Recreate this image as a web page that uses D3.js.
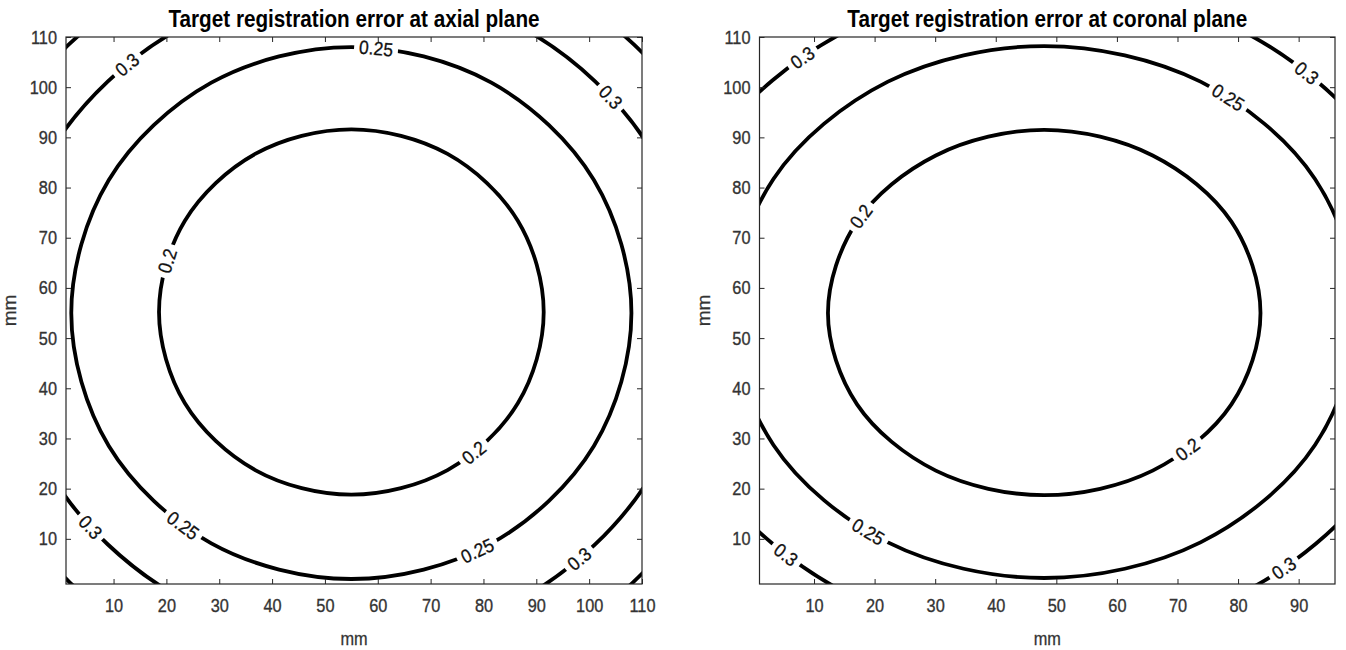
<!DOCTYPE html>
<html><head><meta charset="utf-8">
<script src="https://cdn.jsdelivr.net/npm/d3@7/dist/d3.min.js"></script>
<style>
body{margin:0;background:#fff;}
svg{display:block;}
text{font-family:"Liberation Sans",Arial,Helvetica,sans-serif;}
.sq{transform-box:fill-box;transform-origin:center;transform:scaleX(0.86);}
.sqr{transform-box:fill-box;transform-origin:right center;transform:scaleX(0.86);}
.tt{transform-box:fill-box;transform-origin:center;transform:scaleX(0.9);}
</style></head>
<body><svg id="c" width="1346" height="650"></svg>
<script>
// ---------- data (mm) ----------
const titles = ["Target registration error at axial plane", "Target registration error at coronal plane"];
const xDomainAxial = [1, 110];
const xDomainCoronal = [1, 96];
const yDomain = [1, 110];
const xTicksAxial = [10,20,30,40,50,60,70,80,90,100,110];
const xTicksCoronal = [10,20,30,40,50,60,70,80,90];
const yTicks = [10,20,30,40,50,60,70,80,90,100,110];
const levels = [0.2, 0.25, 0.3, 0.35];

// axial plane contour lines (closed, clipped to the axes box)
const axial020 = [[91.4,55.2],[86.5,73.4],[73.2,86.7],[55,91.6],[36.8,86.7],[23.5,73.4],[18.6,55.2],[23.5,37],[36.8,23.7],[55,18.8],[73.2,23.7],[86.5,37]];
const axial025 = [[108,55],[100.9,81.5],[81.5,100.9],[55,108],[28.5,100.9],[9.1,81.5],[2,55],[9.1,28.5],[28.5,9.1],[55,2],[81.5,9.1],[100.9,28.5]];
const axial030 = [[120.3,55],[111.6,87.7],[87.7,111.6],[55,120.3],[22.4,111.6],[-1.6,87.7],[-10.3,55],[-1.6,22.4],[22.4,-1.6],[55,-10.3],[87.7,-1.6],[111.6,22.4]];
const axial035 = [[130.8,55],[120.6,92.9],[92.9,120.6],[55,130.8],[17.1,120.6],[-10.6,92.9],[-20.8,55],[-10.6,17.1],[17.1,-10.6],[55,-20.8],[92.9,-10.6],[120.6,17.1]];
// coronal plane contour lines
const coronal020 = [[83.7,55],[78.9,73.2],[65.9,86.4],[48,91.5],[30.1,86.4],[17.1,73.2],[12.3,55],[17.1,36.8],[30.1,23.6],[48,18.7],[65.9,23.6],[78.9,36.8]];
const coronal025 = [[99.6,55.2],[92.7,81.7],[73.8,101.1],[48,108.2],[22.2,101.1],[3.3,81.7],[-3.6,55.2],[3.3,28.7],[22.2,9.3],[48,2.2],[73.8,9.3],[92.7,28.7]];
const coronal030 = [[111.6,55.2],[103.1,87.85],[79.8,111.75],[48,120.5],[16.2,111.75],[-7.1,87.85],[-15.6,55.2],[-7.1,22.55],[16.2,-1.35],[48,-10.1],[79.8,-1.35],[103.1,22.55]];

// contour labels: [level, x(mm), y(mm)]
const axialLabels = [[0.3,13.1,103.8],[0.25,59.7,107.6],[0.3,104.3,98.2],[0.2,20.7,65.2],[0.2,78.6,26.7],[0.3,3.6,10.4],[0.25,23.5,13.2],[0.25,79,7.2],[0.3,98.3,5.8]];
const coronalLabels = [[0.3,8.1,105.8],[0.3,91.5,103],[0.25,77.9,97.1],[0.2,17.9,74.1],[0.2,72,27.3],[0.25,19.6,12.8],[0.3,5.4,6.8],[0.3,87.2,4.8]];

// ---------- drawing ----------
const svg = d3.select("#c");
const panels = [
  {title:titles[0], xDomain:xDomainAxial, xTicks:xTicksAxial, left:66, right:642,
   contours:[[0.2,axial020],[0.25,axial025],[0.3,axial030],[0.35,axial035]], labels:axialLabels},
  {title:titles[1], xDomain:xDomainCoronal, xTicks:xTicksCoronal, left:759.5, right:1335,
   contours:[[0.2,coronal020],[0.25,coronal025],[0.3,coronal030]], labels:coronalLabels}
];
const plotTop = 37, plotBottom = 584;
const axisColor = "#262626";

panels.forEach((p, i) => {
  const x = d3.scaleLinear().domain(p.xDomain).range([p.left, p.right]);
  const y = d3.scaleLinear().domain(yDomain).range([plotBottom, plotTop]);
  const g = svg.append("g");
  const clipId = "clip" + i;
  svg.append("defs").append("clipPath").attr("id", clipId)
    .append("rect").attr("x", p.left).attr("y", plotTop)
    .attr("width", p.right - p.left).attr("height", plotBottom - plotTop);

  const plot = g.append("g").attr("clip-path", `url(#${clipId})`);
  const line = d3.line().x(d => x(d[0])).y(d => y(d[1])).curve(d3.curveCatmullRomClosed.alpha(0.5));
  const paths = {};
  p.contours.forEach(([lev, pts]) => {
    paths[lev] = plot.append("path").attr("d", line(pts))
      .attr("fill", "none").attr("stroke", "#000").attr("stroke-width", 3.8);
  });

  // labels with gaps
  p.labels.forEach(([lev, lx, ly]) => {
    const node = paths[lev].node();
    const L = node.getTotalLength();
    const px = x(lx), py = y(ly);
    let best = 0, bd = Infinity;
    for (let s = 0; s <= L; s += 0.5) {
      const q = node.getPointAtLength(s);
      const d = (q.x - px) ** 2 + (q.y - py) ** 2;
      if (d < bd) { bd = d; best = s; }
    }
    const q = node.getPointAtLength(best);
    const a = node.getPointAtLength(Math.max(0, best - 4));
    const b = node.getPointAtLength(Math.min(L, best + 4));
    let ang = Math.atan2(b.y - a.y, b.x - a.x) * 180 / Math.PI;
    if (ang > 90) ang -= 180;
    if (ang < -90) ang += 180;
    const lg = plot.append("g").attr("transform", `translate(${q.x},${q.y}) rotate(${ang})`);
    const t = String(lev);
    const tx = lg.append("text").attr("text-anchor", "middle").attr("dy", "0.36em")
      .attr("font-size", 19).attr("fill", "#111").attr("stroke", "#111").attr("stroke-width", 0.3)
      .attr("transform", "scale(0.92,1)").text(t);
    const w = tx.node().getComputedTextLength() * 0.92 + 10;
    lg.insert("rect", "text").attr("x", -w / 2).attr("y", -10).attr("width", w).attr("height", 20).attr("fill", "#fff");
  });

  // axes box
  g.append("rect").attr("x", p.left).attr("y", plotTop).attr("width", p.right - p.left).attr("height", plotBottom - plotTop)
    .attr("fill", "none").attr("stroke", axisColor).attr("stroke-width", 1.2);

  const tl = 5;
  const xa = g.append("g").attr("transform", `translate(0,${plotBottom})`)
    .call(d3.axisBottom(x).tickValues(p.xTicks).tickSizeInner(-tl).tickSizeOuter(0).tickPadding(15));
  const xt = g.append("g").attr("transform", `translate(0,${plotTop})`)
    .call(d3.axisTop(x).tickValues(p.xTicks).tickSizeInner(-tl).tickSizeOuter(0).tickFormat(""));
  const ya = g.append("g").attr("transform", `translate(${p.left},0)`)
    .call(d3.axisLeft(y).tickValues(yTicks).tickSizeInner(-tl).tickSizeOuter(0).tickPadding(9));
  const yr = g.append("g").attr("transform", `translate(${p.right},0)`)
    .call(d3.axisRight(y).tickValues(yTicks).tickSizeInner(-tl).tickSizeOuter(0).tickFormat(""));
  [xa, xt, ya, yr].forEach(ax => {
    ax.select(".domain").remove();
    ax.selectAll("line").attr("stroke", axisColor).attr("stroke-width", 1);
    ax.selectAll("text").attr("font-size", 19).attr("fill", "#333")
      .attr("stroke", "#333").attr("stroke-width", 0.35)
      .style("font-family", '"Liberation Sans",Arial,sans-serif');
  });
  xa.selectAll("text").attr("class", "sq");
  ya.selectAll("text").attr("class", "sqr");

  const cx = (p.left + p.right) / 2;
  g.append("text").attr("x", cx).attr("y", 27).attr("text-anchor", "middle").attr("class", "tt")
    .attr("font-size", 23).attr("font-weight", "bold").attr("fill", "#000").text(p.title);
  g.append("text").attr("x", cx).attr("y", 645).attr("text-anchor", "middle").attr("class", "sq")
    .attr("font-size", 19).attr("fill", "#333").attr("stroke", "#333").attr("stroke-width", 0.3).text("mm");
  g.append("text").attr("transform", `translate(${p.left - 50},${(plotTop + plotBottom) / 2}) rotate(-90)`)
    .attr("text-anchor", "middle").attr("font-size", 19).attr("fill", "#333")
    .attr("stroke", "#333").attr("stroke-width", 0.3).text("mm");
});
</script></body></html>
